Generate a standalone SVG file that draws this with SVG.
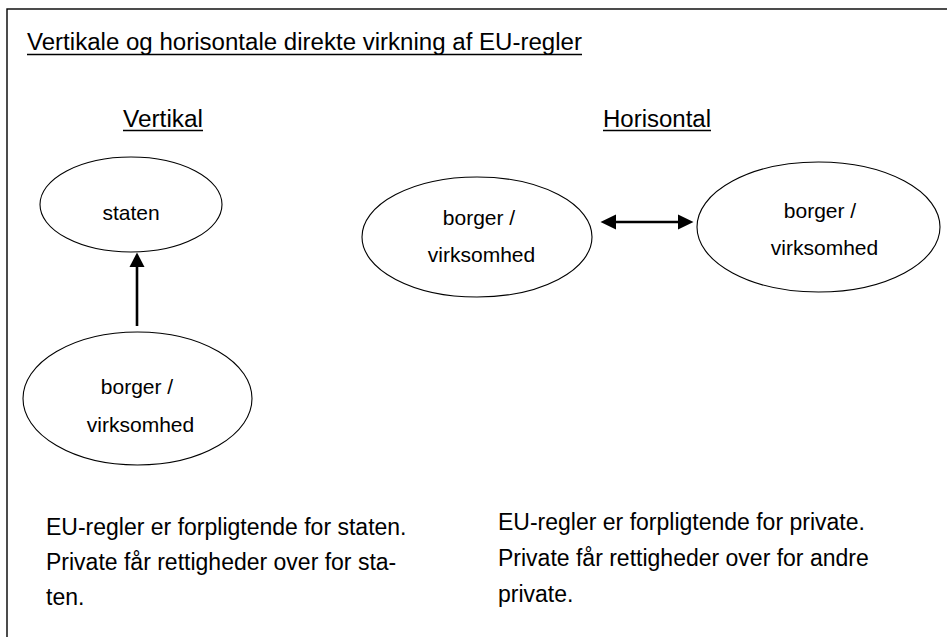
<svg xmlns="http://www.w3.org/2000/svg" width="947" height="637" viewBox="0 0 947 637">
<defs>
<style>
text{font-family:"Liberation Sans",Arial,sans-serif;fill:#000}
.t{font-size:23px}
.n{font-size:21px;text-anchor:middle}
.ul{stroke:#000;stroke-width:1.6}
.el{fill:#fff;stroke:#000;stroke-width:1.1}
.con{stroke:#000;stroke-width:2.6;fill:none}
</style>
</defs>
<rect width="947" height="637" fill="#fff"/>
<rect x="7" y="9" width="960" height="660" fill="none" stroke="#000" stroke-width="1.4"/>

<g id="title">
<text class="t" x="27" y="50" textLength="555" lengthAdjust="spacingAndGlyphs">Vertikale og horisontale direkte virkning af EU-regler</text>
<line class="ul" x1="27" y1="54.5" x2="582" y2="54.5"/>
</g>
<g id="hdr-vertikal">
<text class="t" x="123" y="126.5" textLength="80" lengthAdjust="spacingAndGlyphs">Vertikal</text>
<line class="ul" x1="123" y1="130.5" x2="203" y2="130.5"/>
</g>
<g id="hdr-horisontal">
<text class="t" x="603" y="126.5" textLength="108" lengthAdjust="spacingAndGlyphs">Horisontal</text>
<line class="ul" x1="603" y1="130.5" x2="711" y2="130.5"/>
</g>

<g id="connectors">
<line class="con" x1="137" y1="326" x2="137" y2="265"/>
<polygon points="137,252.5 129.5,267 144.5,267" fill="#000"/>
<line class="con" x1="614" y1="222" x2="680" y2="222"/>
<polygon points="600.5,222 616,214.5 616,229.5" fill="#000"/>
<polygon points="693.5,222 678,214.5 678,229.5" fill="#000"/>
</g>

<g id="node-staten">
<ellipse class="el" cx="131" cy="204.5" rx="91" ry="47.5"/>
<text class="n" x="131" y="220">staten</text>
</g>
<g id="node-borger-vertikal">
<ellipse class="el" cx="137.5" cy="398.5" rx="114.5" ry="66.5"/>
<text class="n" x="137" y="394">borger /</text>
<text class="n" x="140.5" y="432">virksomhed</text>
</g>
<g id="node-borger-h1">
<ellipse class="el" cx="477" cy="237" rx="115" ry="60"/>
<text class="n" x="479" y="225">borger /</text>
<text class="n" x="481.5" y="262">virksomhed</text>
</g>
<g id="node-borger-h2">
<ellipse class="el" cx="818.5" cy="227" rx="121.5" ry="65"/>
<text class="n" x="820" y="218">borger /</text>
<text class="n" x="824.5" y="255">virksomhed</text>
</g>

<g id="text-vertikal">
<text class="t" x="46" y="535">EU-regler er forpligtende for staten.</text>
<text class="t" x="46" y="570">Private får rettigheder over for sta-</text>
<text class="t" x="46" y="605">ten.</text>
</g>
<g id="text-horisontal">
<text class="t" x="498" y="530">EU-regler er forpligtende for private.</text>
<text class="t" x="498" y="566">Private får rettigheder over for andre</text>
<text class="t" x="498" y="602">private.</text>
</g>
</svg>
